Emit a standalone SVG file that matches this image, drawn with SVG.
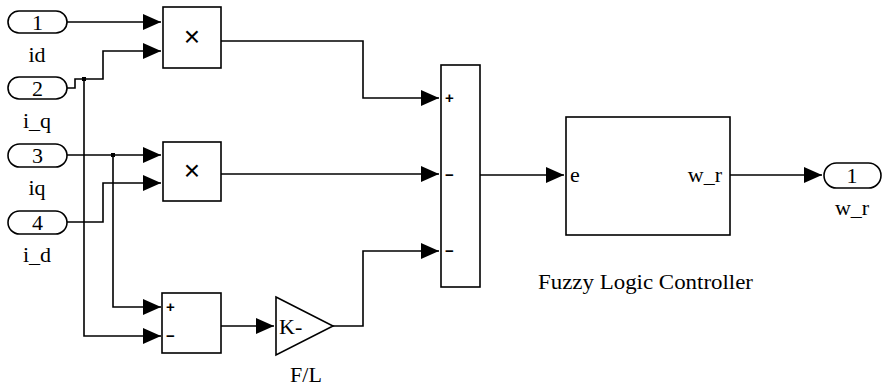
<svg xmlns="http://www.w3.org/2000/svg" width="882" height="386" viewBox="0 0 882 386">
<defs>
<marker id="arr" markerUnits="userSpaceOnUse" markerWidth="20" markerHeight="18" refX="18" refY="8" orient="auto">
<path d="M0,0 L18,8 L0,16 z" fill="#000"/>
</marker>
<style>
.blk{fill:#fff;stroke:#000;stroke-width:1.6}
.ln{fill:none;stroke:#000;stroke-width:1.6;marker-end:url(#arr)}
.t{font-family:"Liberation Serif","Times New Roman",serif;font-size:22px;fill:#000}
.c{text-anchor:middle}
.s{font-family:"Liberation Sans",Arial,sans-serif;font-size:15px;font-weight:bold;fill:#000}
.x{font-family:"Liberation Sans",Arial,sans-serif;font-size:28px;fill:#000;text-anchor:middle}
</style>
</defs>
<rect width="882" height="386" fill="#fff"/>

<g id="connectors">
<path class="ln" d="M67,22 H161"/>
<path class="ln" d="M67,88 H75 V79 H103 V51 H161"/>
<path class="ln" d="M84,79 V336 H161"/>
<path class="ln" d="M67,155 H161"/>
<path class="ln" d="M113,155 V307 H161"/>
<path class="ln" d="M67,222 H103 V183 H161"/>
<path class="ln" d="M221,41 H363 V98 H439"/>
<path class="ln" d="M221,174 H439"/>
<path class="ln" d="M221,326 H274"/>
<path class="ln" d="M333,326 H363 V251 H439"/>
<path class="ln" d="M480,175 H564"/>
<path class="ln" d="M730,175 H822"/>
<rect x="82" y="77" width="4" height="4" fill="#000"/>
<rect x="111" y="153" width="4" height="4" fill="#000"/>
</g>

<g id="in1">
<rect class="blk" x="8" y="11" width="59" height="22" rx="11"/>
<text class="t c" x="37.5" y="29.5">1</text>
<text class="t c" x="37" y="62">id</text>
</g>
<g id="in2">
<rect class="blk" x="8" y="77" width="59" height="22" rx="11"/>
<text class="t c" x="37.5" y="95.5">2</text>
<text class="t c" x="37" y="128">i_q</text>
</g>
<g id="in3">
<rect class="blk" x="8" y="144" width="59" height="23" rx="11.5"/>
<text class="t c" x="37.5" y="163">3</text>
<text class="t c" x="37" y="195">iq</text>
</g>
<g id="in4">
<rect class="blk" x="8" y="211" width="59" height="23" rx="11.5"/>
<text class="t c" x="37.5" y="230">4</text>
<text class="t c" x="37" y="262">i_d</text>
</g>

<g id="prod1">
<rect class="blk" x="163" y="7" width="58" height="61"/>
<text class="x" x="192" y="46">×</text>
</g>
<g id="prod2">
<rect class="blk" x="163" y="142" width="58" height="59"/>
<text class="x" x="192" y="180">×</text>
</g>
<g id="sum1">
<rect class="blk" x="162" y="293" width="59" height="60"/>
<text class="s" x="166" y="312">+</text>
<text class="s" x="166" y="341">−</text>
</g>
<g id="gain">
<polygon class="blk" points="276,297 333,326 276,355"/>
<text class="t" x="279" y="334">K-</text>
<text class="t c" x="306" y="382">F/L</text>
</g>
<g id="sum2">
<rect class="blk" x="441" y="65" width="39" height="222"/>
<text class="s" x="445" y="103">+</text>
<text class="s" x="445" y="180">−</text>
<text class="s" x="445" y="256">−</text>
</g>
<g id="flc">
<rect class="blk" x="566" y="117" width="164" height="118"/>
<text class="t" x="570" y="182">e</text>
<text class="t" x="722" y="182" text-anchor="end">w_r</text>
<text class="t" x="538" y="289" textLength="215" lengthAdjust="spacingAndGlyphs">Fuzzy Logic Controller</text>
</g>
<g id="out1">
<rect class="blk" x="824" y="163" width="57" height="25" rx="12.5"/>
<text class="t c" x="852" y="183">1</text>
<text class="t c" x="852" y="215">w_r</text>
</g>
</svg>
